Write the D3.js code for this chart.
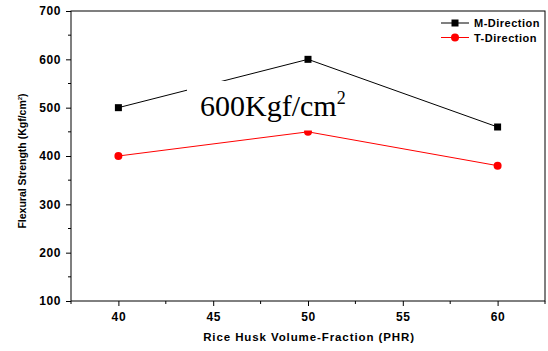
<!DOCTYPE html>
<html><head><meta charset="utf-8">
<script src="https://cdn.jsdelivr.net/npm/d3@7/dist/d3.min.js"></script>
<style>
body{margin:0;background:#fff;}
svg{display:block;}
</style></head>
<body>
<svg id="chart" width="548" height="351"></svg>
<script>
const categories = [40, 50, 60];
const mDirection = [500, 600, 460];
const tDirection = [400, 450, 380];
const xTicks = [40, 45, 50, 55, 60];
const yTicks = [100, 200, 300, 400, 500, 600, 700];
const seriesNames = ["M-Direction", "T-Direction"];
const annotation = "600Kgf/cm";

const svg = d3.select("#chart");
const L = 71, R = 545, T = 11, B = 301;
const x = d3.scaleLinear().domain([37.5, 62.5]).range([L, R]);
const y = d3.scaleLinear().domain([100, 700]).range([B, T]);
const boldFont = "'Liberation Sans', Arial, sans-serif";

// frame
svg.append("rect").attr("x", L).attr("y", T).attr("width", R - L).attr("height", B - T)
  .attr("fill", "none").attr("stroke", "#000").attr("stroke-width", 1);

// minor ticks
const xMinor = d3.range(37.5, 62.6, 2.5).filter(v => !xTicks.includes(v));
const yMinor = d3.range(150, 700, 100);
svg.append("g").selectAll("line").data(xMinor).join("line")
  .attr("x1", d => x(d)).attr("x2", d => x(d)).attr("y1", B).attr("y2", B + 3)
  .attr("stroke", "#000");
svg.append("g").selectAll("line").data(yMinor).join("line")
  .attr("x1", L - 3).attr("x2", L).attr("y1", d => y(d)).attr("y2", d => y(d))
  .attr("stroke", "#000");

// axes
const xAxis = svg.append("g").attr("transform", `translate(0,${B})`)
  .call(d3.axisBottom(x).tickValues(xTicks).tickSize(5).tickPadding(6).tickFormat(d3.format("d")));
const yAxis = svg.append("g").attr("transform", `translate(${L},0)`)
  .call(d3.axisLeft(y).tickValues(yTicks).tickSize(5).tickPadding(5).tickFormat(d3.format("d")));
[xAxis, yAxis].forEach(a => {
  a.select(".domain").remove();
  a.selectAll("line").attr("stroke", "#000");
  a.selectAll("text").attr("fill", "#000").style("font-family", boldFont)
    .style("font-weight", "bold").style("font-size", "12px").style("letter-spacing", "0.6px");
});

// axis titles
svg.append("text").attr("x", (L + R) / 2 + 1).attr("y", 341).attr("text-anchor", "middle")
  .style("font-family", boldFont).style("font-weight", "bold").style("font-size", "11.5px")
  .style("letter-spacing", "0.9px").text("Rice Husk Volume-Fraction (PHR)");
const yt = svg.append("text").attr("transform", `translate(26,${(T + B) / 2 + 5}) rotate(-90)`)
  .attr("text-anchor", "middle").style("font-family", boldFont).style("font-weight", "bold")
  .style("font-size", "10.5px");
yt.append("tspan").text("Flexural Strength (Kgf/cm");
yt.append("tspan").attr("dy", -4).style("font-size", "6px").text("2");
yt.append("tspan").attr("dy", 4).text(")");

// series
const series = [
  {name: seriesNames[0], values: mDirection, color: "#000", shape: "square"},
  {name: seriesNames[1], values: tDirection, color: "#ff0000", shape: "circle"}
];
const line = d3.line().x(d => x(d[0])).y(d => y(d[1]));
series.forEach(s => {
  const pts = categories.map((c, i) => [c, s.values[i]]);
  svg.append("path").datum(pts).attr("d", line).attr("fill", "none")
    .attr("stroke", s.color).attr("stroke-width", 1);
  if (s.shape === "square") {
    svg.append("g").selectAll("rect").data(pts).join("rect")
      .attr("x", d => x(d[0]) - 3.5).attr("y", d => y(d[1]) - 3.5)
      .attr("width", 7).attr("height", 7).attr("fill", s.color);
  } else {
    svg.append("g").selectAll("circle").data(pts).join("circle")
      .attr("cx", d => x(d[0])).attr("cy", d => y(d[1])).attr("r", 4).attr("fill", s.color);
  }
});

// legend
series.forEach((s, i) => {
  const ly = 23 + i * 14.5;
  const g = svg.append("g");
  g.append("line").attr("x1", 441).attr("x2", 469).attr("y1", ly).attr("y2", ly)
    .attr("stroke", s.color).attr("stroke-width", 1);
  if (s.shape === "square") {
    g.append("rect").attr("x", 455 - 3.5).attr("y", ly - 3.5).attr("width", 7).attr("height", 7).attr("fill", s.color);
  } else {
    g.append("circle").attr("cx", 455).attr("cy", ly).attr("r", 4).attr("fill", s.color);
  }
  g.append("text").attr("x", 474).attr("y", ly + 4).style("font-family", boldFont)
    .style("font-weight", "bold").style("font-size", "11px").style("letter-spacing", "0.5px")
    .text(s.name);
});

// annotation overlay with white background
svg.append("rect").attr("x", 187).attr("y", 81).attr("width", 170).attr("height", 49.5).attr("fill", "#fff");
const at = svg.append("text").attr("x", 200).attr("y", 116)
  .style("font-family", "'Liberation Serif', 'Times New Roman', serif").style("font-size", "30px")
  .attr("fill", "#000");
at.append("tspan").text(annotation);
at.append("tspan").attr("dy", -12).style("font-size", "18px").text("2");
</script>
</body></html>
